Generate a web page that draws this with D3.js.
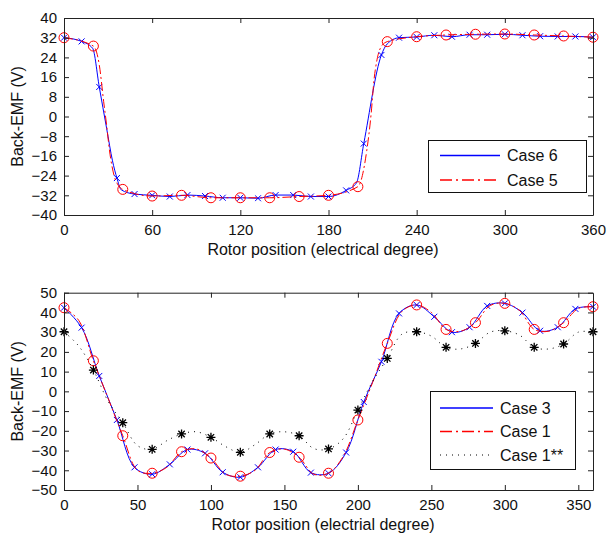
<!DOCTYPE html>
<html><head><meta charset="utf-8">
<script src="https://cdn.jsdelivr.net/npm/d3@7/dist/d3.min.js"></script>
<style>
body{margin:0;background:#fff}
svg{display:block}
text{font-family:"Liberation Sans",Arial,sans-serif;fill:#111}
</style>
</head><body>
<svg id="chart" width="607" height="538"></svg>
<script>
// ---------------- data: top panel ----------------
const topXTicks = [0, 60, 120, 180, 240, 300, 360];
const topYTicks = [-40, -32, -24, -16, -8, 0, 8, 16, 24, 32, 40];
const topXLabel = "Rotor position (electrical degree)";
const yLabel = "Back-EMF (V)";
const topLegend = ["Case 6", "Case 5"];

// Case 6 (blue, x markers every 12 deg; extra points are line-only)
const case6Angles = [0, 12, 19.5, 24, 29, 33, 36, 39, 48, 60, 72, 84, 96, 108, 120, 132, 144, 156, 168, 180, 192, 199, 204, 216, 220, 228, 240, 252, 264, 276, 288, 300, 312, 324, 336, 348, 360];
const case6Values = [32, 30.5, 27.7, 12, -4.8, -18, -25, -29.8, -31.5, -32, -32.5, -31.9, -32.3, -33, -33, -33.2, -31.9, -31.9, -32.5, -32.5, -30, -27, -11, 25, 29.5, 32, 32.3, 33, 32.4, 33.2, 33.2, 33.4, 33, 32.6, 32.5, 32.5, 32.2];

// Case 5 (red dash-dot, circle markers every 20 deg; extra points are line-only)
const case5Angles = [0, 20, 24, 27, 29, 31, 34, 37, 40, 60, 80, 100, 120, 140, 160, 180, 200, 206, 209, 211, 213, 216, 220, 240, 260, 280, 300, 320, 340, 360];
const case5Values = [32, 28.6, 21, 6, -3.5, -14, -23.8, -28, -29.6, -32.3, -32, -33, -33, -33, -32.5, -32, -28.5, -14, 1, 15, 23, 28.5, 30.4, 32.4, 33.1, 33.4, 33.5, 33.1, 32.7, 32.2];

// ---------------- data: bottom panel ----------------
const botXTicks = [0, 50, 100, 150, 200, 250, 300, 350];
const botYTicks = [-50, -40, -30, -20, -10, 0, 10, 20, 30, 40, 50];
const botXLabel = "Rotor position (electrial degree)";
const botLegend = ["Case 3", "Case 1", "Case 1**"];

// Case 3 (blue, x markers every 12 deg)
const case3Angles = [0, 12, 24, 36, 48, 60, 72, 84, 96, 108, 120, 132, 144, 156, 168, 180, 192, 204, 216, 228, 240, 252, 264, 276, 288, 300, 312, 324, 336, 348, 360];
const case3Values = [42.4, 32.3, 7.8, -14.5, -38.5, -42, -37, -29.5, -31.4, -41, -43.5, -38.5, -29.5, -30.6, -41.2, -41.5, -31, -5.4, 15, 39.5, 43.8, 37.8, 30, 32.5, 43.3, 44.6, 39.9, 30.7, 32.5, 41.8, 42.9];

// Case 1 (red dash-dot, circles every 20 deg; 10-deg points are line-only)
const case1Angles = [0, 10, 20, 30, 40, 50, 60, 70, 80, 90, 100, 110, 120, 130, 140, 150, 160, 170, 180, 190, 200, 210, 220, 230, 240, 250, 260, 270, 280, 290, 300, 310, 320, 330, 340, 350, 360];
const case1Values = [42.4, 36, 15.5, -3.5, -22.5, -40, -41.5, -38.5, -30.6, -29.2, -33.8, -42, -43, -40, -31, -29.3, -33.4, -42, -41.5, -33, -14.5, 4.5, 24.3, 40.5, 43.8, 40, 31.4, 30.5, 34.8, 43.5, 44.6, 41, 31.4, 30.5, 34.8, 42, 42.9];

// Case 1** (black dotted, asterisks every 20 deg)
const case1sAngles = [0, 10, 20, 30, 40, 50, 60, 70, 80, 90, 100, 110, 120, 130, 140, 150, 160, 170, 180, 190, 200, 210, 220, 230, 240, 250, 260, 270, 280, 290, 300, 310, 320, 330, 340, 350, 360];
const case1sValues = [30.2, 23, 10.8, -5, -15.9, -27.5, -29.4, -25, -21.6, -20.5, -23.3, -28, -30.9, -27, -21.6, -20.5, -22.5, -29, -29.2, -24, -9.5, 5, 16.7, 29, 30.2, 28, 22.3, 21.5, 24.3, 30, 30.7, 28.5, 22.3, 21.5, 24, 30, 30.2];

// ---------------- drawing ----------------
const svg = d3.select("#chart");
const zip = (a, v) => a.map((d, i) => ({ a: d, v: v[i] }));

const markerPaths = {
  x: "M-3,-3L3,3M-3,3L3,-3",
  star: "M0,-4.5V4.5M-4.5,0H4.5M-3.2,-3.2L3.2,3.2M-3.2,3.2L3.2,-3.2"
};

function drawPanel(cfg, idx) {
  const g = svg.append("g");
  const x = d3.scaleLinear().domain([0, 360]).range([64, 593]);
  const y = d3.scaleLinear().domain(cfg.yDomain).range([cfg.bottom, cfg.top]);

  const clipId = "clip" + idx;
  svg.append("clipPath").attr("id", clipId).append("rect")
    .attr("x", 64).attr("y", cfg.top - 8).attr("width", 530).attr("height", cfg.bottom - cfg.top + 16);

  // series
  cfg.series.forEach(s => {
    const data = zip(s.angles, s.values);
    const line = d3.line().x(d => x(d.a)).y(d => y(d.v)).curve(s.curve);
    g.append("path").datum(data)
      .attr("d", line)
      .attr("fill", "none")
      .style("stroke", s.color)
      .attr("stroke-width", 1)
      .attr("stroke-dasharray", s.dash)
      .attr("clip-path", `url(#${clipId})`);
    const md = data.filter(d => d.a % s.every === 0);
    if (s.marker === "o") {
      g.selectAll(null).data(md).join("circle")
        .attr("cx", d => x(d.a)).attr("cy", d => y(d.v)).attr("r", 5)
        .attr("fill", "none").style("stroke", s.color).attr("stroke-width", 1);
    } else {
      g.selectAll(null).data(md).join("path")
        .attr("transform", d => `translate(${x(d.a)},${y(d.v)})`)
        .attr("d", markerPaths[s.marker])
        .attr("fill", "none").style("stroke", s.color)
        .attr("stroke-width", s.marker === "star" ? 1.3 : 1);
    }
  });

  // axes (ticks inside, all four sides)
  const styleAxis = sel => {
    sel.selectAll(".domain").attr("stroke", "#222");
    sel.selectAll(".tick line").attr("stroke", "#222");
    sel.selectAll("text").attr("font-size", 15).attr("fill", "#111")
      .attr("font-family", '"Liberation Sans", Arial, sans-serif');
  };
  g.append("g").attr("transform", `translate(0,${cfg.bottom})`)
    .call(d3.axisBottom(x).tickValues(cfg.xTicks).tickSizeInner(-5).tickSizeOuter(0).tickPadding(9))
    .call(styleAxis);
  g.append("g").attr("transform", `translate(0,${cfg.top})`)
    .call(d3.axisTop(x).tickValues(cfg.xTicks).tickSizeInner(-5).tickSizeOuter(0).tickFormat(""))
    .call(styleAxis);
  g.append("g").attr("transform", `translate(64,0)`)
    .call(d3.axisLeft(y).tickValues(cfg.yTicks).tickSizeInner(-5).tickSizeOuter(0).tickPadding(7))
    .call(styleAxis);
  g.append("g").attr("transform", `translate(593,0)`)
    .call(d3.axisRight(y).tickValues(cfg.yTicks).tickSizeInner(-5).tickSizeOuter(0).tickFormat(""))
    .call(styleAxis);

  // axis labels
  g.append("text").attr("x", 323).attr("y", cfg.xLabelY)
    .attr("text-anchor", "middle").attr("font-size", 16).text(cfg.xLabel);
  g.append("text")
    .attr("transform", `translate(23,${(cfg.top + cfg.bottom) / 2}) rotate(-90)`)
    .attr("text-anchor", "middle").attr("font-size", 16).text(yLabel);

  // legend
  const L = cfg.legend;
  const lg = svg.append("g");
  lg.append("rect").attr("x", L.x).attr("y", L.y).attr("width", L.w).attr("height", L.h)
    .attr("fill", "#fff").attr("stroke", "#111").attr("stroke-width", 1);
  cfg.series.forEach((s, i) => {
    const yy = L.rowY[i];
    lg.append("path").attr("d", `M${L.lx1},${yy}H${L.lx2}`)
      .attr("fill", "none")
      .style("stroke", s.color).attr("stroke-width", s.marker === "star" ? 1 : 1.3)
      .attr("stroke-dasharray", s.legendDash || s.dash);
    lg.append("text").attr("x", L.tx).attr("y", yy).attr("dy", "0.36em")
      .attr("font-size", 16).text(cfg.legendNames[i]);
  });
}

drawPanel({
  top: 18, bottom: 215, yDomain: [-40, 40],
  xTicks: topXTicks, yTicks: topYTicks, xLabel: topXLabel, xLabelY: 255,
  legendNames: topLegend,
  legend: { x: 428.5, y: 140.5, w: 158, h: 52, rowY: [155.5, 180], lx1: 440, lx2: 500, tx: 507 },
  series: [
    { angles: case6Angles, values: case6Values, color: "#0000ff", dash: null, marker: "x", every: 12, curve: d3.curveMonotoneX },
    { angles: case5Angles, values: case5Values, color: "#ff0000", dash: "9,3,2,3", legendDash: "12,4,2,4", marker: "o", every: 20, curve: d3.curveMonotoneX }
  ]
}, 0);

drawPanel({
  top: 292.7, bottom: 490, yDomain: [-50, 50],
  xTicks: botXTicks, yTicks: botYTicks, xLabel: botXLabel, xLabelY: 530,
  legendNames: botLegend,
  legend: { x: 430.5, y: 391.5, w: 145, h: 78, rowY: [408, 431.5, 455], lx1: 440, lx2: 493, tx: 500 },
  series: [
    { angles: case3Angles, values: case3Values, color: "#0000ff", dash: null, marker: "x", every: 12, curve: d3.curveCatmullRom },
    { angles: case1Angles, values: case1Values, color: "#ff0000", dash: "9,3,2,3", legendDash: "12,4,2,4", marker: "o", every: 20, curve: d3.curveCatmullRom },
    { angles: case1sAngles, values: case1sValues, color: "#000000", dash: "1,5", marker: "star", every: 20, curve: d3.curveCatmullRom }
  ]
}, 1);
</script>
</body></html>
